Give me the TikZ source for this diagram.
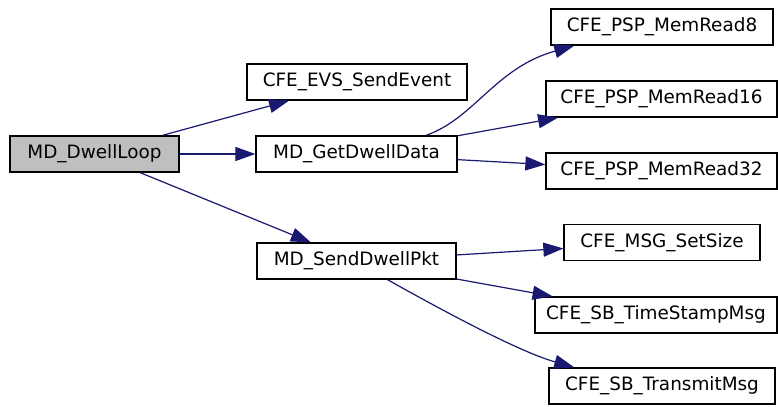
\documentclass[tikz,border=0pt]{standalone}
\usepackage{fontspec}
\setmainfont{DejaVu Sans}
\usetikzlibrary{%
  arrows.meta,%
  calc%
}
\definecolor{edgeblue}{RGB}{25,25,112}
\tikzset{>={Triangle[length=10pt,width=7pt]}}
\tikzset{fnbox/.style = {draw, line width=0.65pt, inner sep=0pt,
        minimum height=18pt, minimum width=#1, font=\fontsize{9.2}{11}\selectfont},
        call/.style={->, draw=edgeblue, line width=0.6pt}}

\begin{document}
\begin{tikzpicture}[x=0.5pt,y=-0.5pt]
    \useasboundingbox (0,0) rectangle (778,407);
    \node[fnbox=84.5pt, fill=black!25] (loop) at (94.5,154) {MD\_DwellLoop};
    \node[fnbox=110pt] (evs) at (357,82) {CFE\_EVS\_SendEvent};
    \node[fnbox=100.5pt] (get) at (356.5,154) {MD\_GetDwellData};
    \node[fnbox=99.5pt] (pkt) at (356.5,261) {MD\_SendDwellPkt};
    \node[fnbox=111pt] (mr8) at (662,27) {CFE\_PSP\_MemRead8};
    \node[fnbox=115.5pt] (mr16) at (661.5,99) {CFE\_PSP\_MemRead16};
    \node[fnbox=115.5pt] (mr32) at (661.5,171) {CFE\_PSP\_MemRead32};
    \node[fnbox=98pt] (size) at (662,242.5) {CFE\_MSG\_SetSize};
    \node[fnbox=121pt] (stamp) at (656,315) {CFE\_SB\_TimeStampMsg};
    \node[fnbox=113pt] (tx) at (662,386) {CFE\_SB\_TransmitMsg};
    % calls
    \draw[call] (loop) -- (evs);
    \draw[call] (loop) -- (get);
    \draw[call] (loop) -- (pkt);
    \draw[call] (get.15) .. controls (475,118) and (495,68) .. (mr8.192);
    \draw[call] (get) -- (mr16);
    \draw[call] (get) -- (mr32);
    \draw[call] (pkt) -- (size);
    \draw[call] (pkt) -- (stamp);
    \draw[call] (pkt.-31) .. controls (445,312) and (520,352) .. (tx.168);
\end{tikzpicture}
\end{document}
